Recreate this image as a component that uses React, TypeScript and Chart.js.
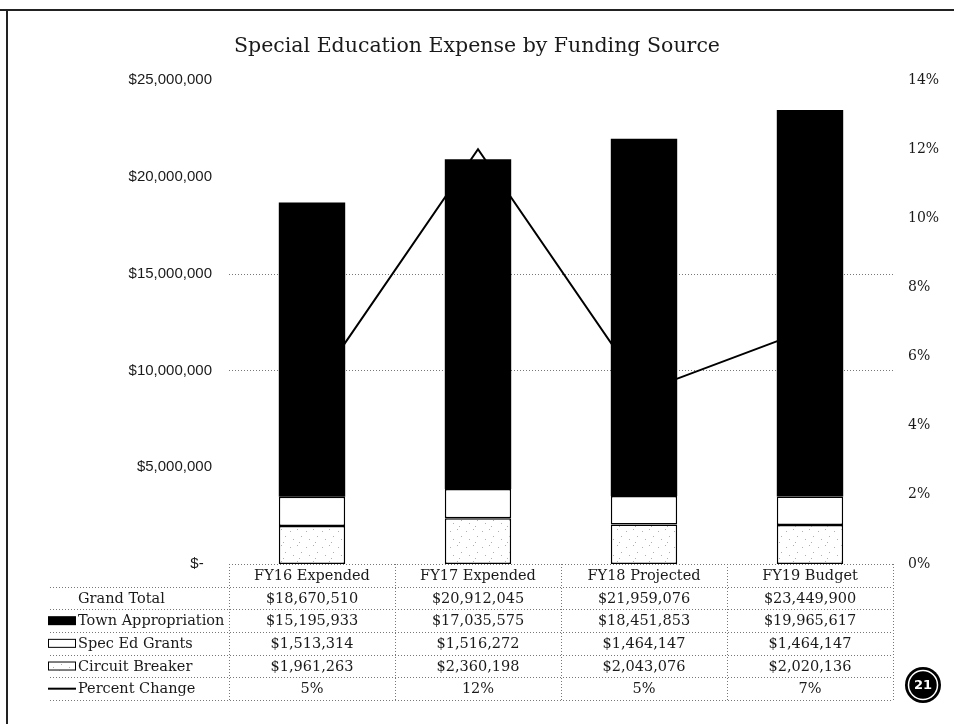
import React, { useEffect, useRef } from "react";
import { Chart, registerables } from "chart.js";

Chart.register(...registerables);

const categories = ["FY16 Expended", "FY17 Expended", "FY18 Projected", "FY19 Budget"];
const grandTotal = [18670510, 20912045, 21959076, 23449900];
const townAppropriation = [15195933, 17035575, 18451853, 19965617];
const specEdGrants = [1513314, 1516272, 1464147, 1464147];
const circuitBreaker = [1961263, 2360198, 2043076, 2020136];
const percentChange = [0.05, 0.12, 0.05, 0.068];
const rowLabels = ["Grand Total", "Town Appropriation", "Spec Ed Grants", "Circuit Breaker", "Percent Change"];
const gridValues = [10000000, 15000000];

const SERIF = '"DejaVu Serif", serif';
const SANS = '"Liberation Sans", Arial, sans-serif';
const INK = "#1a1a1a";

function makeSpeckle(): CanvasPattern | string {
  const c = document.createElement("canvas");
  c.width = 16;
  c.height = 16;
  const g = c.getContext("2d");
  if (!g) return "#fff";
  g.fillStyle = "#ffffff";
  g.fillRect(0, 0, 16, 16);
  g.fillStyle = "#b0b0b0";
  const dots = [[2, 3], [9, 1], [13, 8], [5, 11], [11, 14]];
  dots.forEach(([x, y]) => g.fillRect(x, y, 1, 1));
  const p = g.createPattern(c, "repeat");
  return p || "#fff";
}

const fmtMoney = (v: number) => "$" + v.toLocaleString("en-US");
const fmtPct = (v: number) => Math.round(v * 100) + "%";

export default function App() {
  const ref = useRef<HTMLCanvasElement | null>(null);

  useEffect(() => {
    const canvas = ref.current;
    if (!canvas) return;
    const speckle = makeSpeckle();

    const decor = {
      id: "decor",
      beforeDatasetsDraw(chart: any) {
        const { ctx, chartArea } = chart;
        const y = chart.scales.y;
        ctx.save();
        ctx.strokeStyle = "#777";
        ctx.lineWidth = 1;
        ctx.setLineDash([1, 2]);
        gridValues.forEach((v) => {
          const py = Math.round(y.getPixelForValue(v)) + 0.5;
          ctx.beginPath();
          ctx.moveTo(chartArea.left, py);
          ctx.lineTo(chartArea.right, py);
          ctx.stroke();
        });
        ctx.restore();
      },
      afterDraw(chart: any) {
        const { ctx, chartArea } = chart;
        const xs = chart.scales.x;
        const ys = chart.scales.y;
        ctx.save();

        // frame
        ctx.strokeStyle = "#222";
        ctx.lineWidth = 2;
        ctx.setLineDash([]);
        ctx.beginPath();
        ctx.moveTo(0, 10);
        ctx.lineTo(954, 10);
        ctx.moveTo(7, 10);
        ctx.lineTo(7, 724);
        ctx.stroke();

        // title
        ctx.fillStyle = INK;
        ctx.font = "20.5px " + SERIF;
        ctx.textAlign = "center";
        ctx.textBaseline = "middle";
        ctx.fillText("Special Education Expense by Funding Source", 477, 47);

        // data table
        const left = chartArea.left;
        const right = chartArea.right;
        const colW = (right - left) / categories.length;
        const top = ys.getPixelForValue(0);
        const rowH = 22.67;
        const tableLeft = 50;

        ctx.strokeStyle = "#777";
        ctx.lineWidth = 1;
        ctx.setLineDash([1, 2]);
        ctx.beginPath();
        ctx.moveTo(left, Math.round(top) + 0.5);
        ctx.lineTo(right, Math.round(top) + 0.5);
        for (let k = 1; k <= 6; k++) {
          const py = Math.round(top + rowH * k) + 0.5;
          ctx.moveTo(tableLeft, py);
          ctx.lineTo(right, py);
        }
        for (let i = 0; i <= categories.length; i++) {
          const px = Math.round(left + colW * i) + 0.5;
          ctx.moveTo(px, top);
          ctx.lineTo(px, top + rowH * 6);
        }
        ctx.stroke();
        ctx.setLineDash([]);

        ctx.font = "14.5px " + SERIF;
        ctx.fillStyle = INK;
        ctx.textAlign = "center";
        categories.forEach((c, i) => {
          ctx.fillText(c, xs.getPixelForValue(i), top + rowH * 0.5 + 1);
        });
        const rows = [
          grandTotal.map(fmtMoney),
          townAppropriation.map(fmtMoney),
          specEdGrants.map(fmtMoney),
          circuitBreaker.map(fmtMoney),
          percentChange.map(fmtPct),
        ];
        rows.forEach((r, k) => {
          const cy = top + rowH * (k + 1.5) + 1;
          r.forEach((txt, i) => ctx.fillText(txt, xs.getPixelForValue(i), cy));
        });

        ctx.textAlign = "left";
        rowLabels.forEach((lab, k) => {
          const cy = top + rowH * (k + 1.5);
          ctx.fillStyle = INK;
          ctx.fillText(lab, 78, cy + 1);
          const kx = 48, kw = 28, kh = 9;
          if (k === 1) {
            ctx.fillStyle = "#000";
            ctx.fillRect(kx, cy - kh / 2, kw, kh);
          } else if (k === 2 || k === 3) {
            ctx.fillStyle = k === 2 ? "#fff" : (speckle as any);
            ctx.fillRect(kx, cy - kh / 2, kw, kh);
            ctx.strokeStyle = "#000";
            ctx.lineWidth = 1;
            ctx.strokeRect(kx + 0.5, cy - kh / 2 + 0.5, kw - 1, kh - 1);
          } else if (k === 4) {
            ctx.strokeStyle = "#000";
            ctx.lineWidth = 2;
            ctx.beginPath();
            ctx.moveTo(kx, cy);
            ctx.lineTo(kx + kw, cy);
            ctx.stroke();
          }
        });

        // page badge
        ctx.fillStyle = "#000";
        ctx.beginPath();
        ctx.arc(923, 685, 18, 0, Math.PI * 2);
        ctx.fill();
        ctx.strokeStyle = "#fff";
        ctx.lineWidth = 1.5;
        ctx.beginPath();
        ctx.arc(923, 685, 14.5, 0, Math.PI * 2);
        ctx.stroke();
        ctx.fillStyle = "#fff";
        ctx.font = 'bold 13px "DejaVu Sans", sans-serif';
        ctx.textAlign = "center";
        ctx.fillText("21", 923, 686);

        ctx.restore();
      },
    };

    const chart = new Chart(canvas, {
      type: "bar",
      data: {
        labels: categories,
        datasets: [
          {
            type: "line",
            label: "Percent Change",
            data: percentChange,
            yAxisID: "y1",
            borderColor: "#000",
            borderWidth: 2,
            pointRadius: 0,
            tension: 0,
            fill: false,
            order: 2,
          } as any,
          {
            label: "Circuit Breaker",
            data: circuitBreaker,
            backgroundColor: speckle as any,
            borderColor: "#000",
            borderWidth: 1.5,
            borderSkipped: false,
            yAxisID: "y",
            order: 1,
          },
          {
            label: "Spec Ed Grants",
            data: specEdGrants,
            backgroundColor: "#fff",
            borderColor: "#000",
            borderWidth: 1.5,
            borderSkipped: false,
            yAxisID: "y",
            order: 1,
          },
          {
            label: "Town Appropriation",
            data: townAppropriation,
            backgroundColor: "#000",
            borderColor: "#000",
            borderWidth: 0,
            yAxisID: "y",
            order: 1,
          },
        ],
      },
      options: {
        responsive: false,
        animation: false,
        devicePixelRatio: 1,
        layout: { padding: { top: 80, bottom: 160, left: 0, right: 0 } },
        plugins: {
          legend: { display: false },
          title: { display: false },
          tooltip: { enabled: false },
        },
        datasets: { bar: { categoryPercentage: 1, barPercentage: 0.4 } },
        scales: {
          x: {
            display: false,
            stacked: true,
            offset: true,
          },
          y: {
            stacked: true,
            min: 0,
            max: 25000000,
            position: "left",
            afterFit: (s: any) => {
              s.width = 229;
            },
            grid: { display: false, drawTicks: false },
            border: { display: false },
            ticks: {
              stepSize: 5000000,
              padding: 17,
              color: INK,
              font: { family: SANS, size: 15 },
              callback: (v: any) => (Number(v) === 0 ? "$-  " : "$" + Number(v).toLocaleString("en-US")),
            },
          },
          y1: {
            min: 0,
            max: 0.14,
            position: "right",
            afterFit: (s: any) => {
              s.width = 61;
            },
            grid: { display: false, drawTicks: false },
            border: { display: false },
            ticks: {
              stepSize: 0.02,
              padding: 15,
              color: INK,
              font: { family: SERIF, size: 14 },
              callback: (v: any) => Math.round(Number(v) * 100) + "%",
            },
          },
        },
      },
      plugins: [decor],
    });

    return () => chart.destroy();
  }, []);

  return (
    <div style={{ position: "fixed", left: 0, top: 0, width: 954, height: 724, background: "#fff" }}>
      <canvas ref={ref} width={954} height={724} style={{ width: 954, height: 724, display: "block" }} />
    </div>
  );
}
